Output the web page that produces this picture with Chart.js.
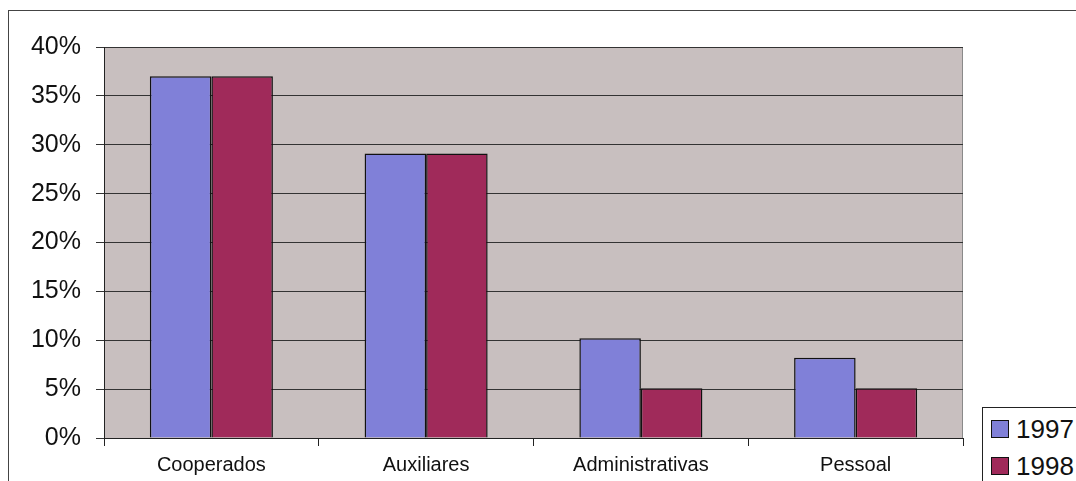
<!DOCTYPE html>
<html>
<head>
<meta charset="utf-8">
<script src="https://cdn.jsdelivr.net/npm/chart.js@4/dist/chart.umd.min.js"></script>
<style>
  html, body { margin: 0; padding: 0; background: #fff; overflow: hidden; }
  #wrap { position: relative; width: 1076px; height: 481px; }
  #frame { position: absolute; left: 8px; top: 10px; width: 1200px; height: 600px; border: 1px solid #444; }
  #chart { position: absolute; left: 0; top: 0; }
  #legend { position: absolute; left: 982px; top: 407px; width: 200px; height: 200px;
            border: 1px solid #222; background: #fff; font-family: "Liberation Sans", Arial, sans-serif; }
  .item { position: absolute; left: 8px; height: 30px; line-height: 30px; font-size: 26px; color: #111; white-space: nowrap; }
  .item span { display: inline-block; width: 16px; height: 16px; border: 1px solid #111; margin-right: 7px; vertical-align: 0px; }
</style>
</head>
<body>
<div id="wrap">
  <div id="frame"></div>
  <canvas id="chart" width="1076" height="481"></canvas>
  <div id="legend"></div>
</div>
<script>
// dados
const categorias = ['Cooperados', 'Auxiliares', 'Administrativas', 'Pessoal']
const anos = ['1997', '1998']
const valores1997 = [37, 29.1, 10.2, 8.2]
const valores1998 = [37, 29.1, 5.1, 5.1]
const cores = ['#8080d8', '#a02a5a']

// fundo cinza da area do grafico
const fundoPlot = {
  id: 'fundoPlot',
  beforeDraw(chart) {
    const a = chart.chartArea
    const c = chart.ctx
    c.save()
    c.fillStyle = '#c8bfbf'
    c.fillRect(a.left, a.top, a.right - a.left, a.bottom - a.top)
    c.strokeStyle = '#8a8a8a'
    c.lineWidth = 1
    c.beginPath()
    c.moveTo(a.left, a.top + 0.5)
    c.lineTo(a.right - 0.5, a.top + 0.5)
    c.lineTo(a.right - 0.5, a.bottom)
    c.stroke()
    c.restore()
  }
}

const ctx = document.getElementById('chart').getContext('2d')

const chart = new Chart(ctx, {
  type: 'bar',
  data: {
    labels: categorias,
    datasets: [
      { label: anos[0], data: valores1997, backgroundColor: cores[0], borderColor: '#111', borderWidth: 1.5 },
      { label: anos[1], data: valores1998, backgroundColor: cores[1], borderColor: '#111', borderWidth: 1.5 }
    ]
  },
  options: {
    responsive: false,
    animation: false,
    layout: { padding: { top: 47, right: 113, left: 0, bottom: 0 } },
    datasets: { bar: { categoryPercentage: 0.573, barPercentage: 1 } },
    plugins: { legend: { display: false }, tooltip: { enabled: false } },
    scales: {
      x: {
        offset: true,
        grid: { display: true, offset: true, drawOnChartArea: false, drawTicks: true, tickLength: 8, color: '#222' },
        border: { display: true, color: '#222', width: 1 },
        ticks: { color: '#111', padding: 7, font: { family: '"Liberation Sans", Arial', size: 20 } },
        afterFit: (s) => { s.height = 43 }
      },
      y: {
        min: 0,
        max: 40,
        grid: { color: '#333', tickLength: 8 },
        border: { display: true, color: '#222', width: 1 },
        ticks: {
          stepSize: 5,
          padding: 15,
          color: '#111',
          font: { family: '"Liberation Sans", Arial', size: 25 },
          callback: (v) => v + '%'
        },
        afterFit: (s) => { s.width = 104 }
      }
    }
  },
  plugins: [fundoPlot]
})

// legenda
const legenda = document.getElementById('legend')
chart.data.datasets.forEach((ds, i) => {
  const d = document.createElement('div')
  d.className = 'item'
  d.style.top = (6 + i * 37) + 'px'
  d.innerHTML = '<span style="background:' + ds.backgroundColor + '"></span>' + ds.label
  legenda.appendChild(d)
})
</script>
</body>
</html>
